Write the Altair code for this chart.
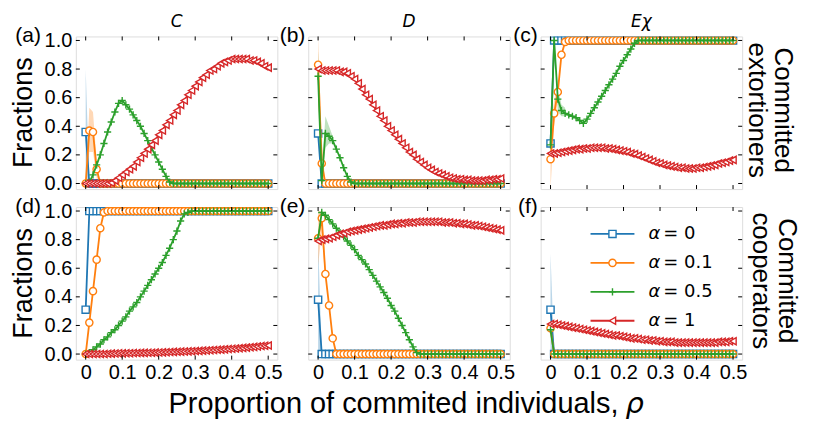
import altair as alt
import pandas as pd

# ---------------- data ----------------
RHO = [0.00, 0.01, 0.02, 0.03, 0.04, 0.05, 0.06, 0.07, 0.08, 0.09,
       0.10, 0.11, 0.12, 0.13, 0.14, 0.15, 0.16, 0.17, 0.18, 0.19,
       0.20, 0.21, 0.22, 0.23, 0.24, 0.25, 0.26, 0.27, 0.28, 0.29,
       0.30, 0.31, 0.32, 0.33, 0.34, 0.35, 0.36, 0.37, 0.38, 0.39,
       0.40, 0.41, 0.42, 0.43, 0.44, 0.45, 0.46, 0.47, 0.48, 0.49,
       0.50]

ALPHA_LABELS = ["0", "0.1", "0.5", "1"]
COLORS = ["#1f77b4", "#ff7f0e", "#2ca02c", "#d62728"]
SHAPES = ["square", "circle", "M-1,0L1,0M0,-1L0,1", "triangle-left"]
X_TICKS = [0, 0.1, 0.2, 0.3, 0.4, 0.5]
Y_TICKS = [0, 0.2, 0.4, 0.6, 0.8, 1.0]
COL_TITLES = ["C", "D", "Eχ"]
ROW_TITLES = ["Committed\nextortioners", "Committed\ncooperators"]
PANEL_TAGS = ["(a)", "(b)", "(c)", "(d)", "(e)", "(f)"]

# (a) C, committed extortioners
A_0 = [0.36, 0, 0, 0, 0, 0, 0, 0, 0, 0,
       0, 0, 0, 0, 0, 0, 0, 0, 0, 0,
       0, 0, 0, 0, 0, 0, 0, 0, 0, 0,
       0, 0, 0, 0, 0, 0, 0, 0, 0, 0,
       0, 0, 0, 0, 0, 0, 0, 0, 0, 0,
       0]
A_01 = [0, 0.37, 0.36, 0.10, 0, 0, 0, 0, 0, 0,
        0, 0, 0, 0, 0, 0, 0, 0, 0, 0,
        0, 0, 0, 0, 0, 0, 0, 0, 0, 0,
        0, 0, 0, 0, 0, 0, 0, 0, 0, 0,
        0, 0, 0, 0, 0, 0, 0, 0, 0, 0,
        0]
A_05 = [0, 0.01, 0.06, 0.13, 0.20, 0.28, 0.36, 0.43, 0.50, 0.56,
        0.58, 0.55, 0.52, 0.48, 0.44, 0.40, 0.35, 0.30, 0.25, 0.20,
        0.15, 0.10, 0.05, 0.01, 0, 0, 0, 0, 0, 0,
        0, 0, 0, 0, 0, 0, 0, 0, 0, 0,
        0, 0, 0, 0, 0, 0, 0, 0, 0, 0,
        0]
A_1 = [0, 0, 0, 0, 0, 0, 0, 0.005, 0.02, 0.04,
       0.06, 0.08, 0.10, 0.12, 0.15, 0.18, 0.21, 0.24, 0.27, 0.30,
       0.34, 0.37, 0.41, 0.44, 0.48, 0.51, 0.55, 0.58, 0.62, 0.65,
       0.68, 0.71, 0.74, 0.76, 0.79, 0.80, 0.82, 0.84, 0.85, 0.86,
       0.87, 0.87, 0.87, 0.87, 0.87, 0.86, 0.86, 0.85, 0.84, 0.82,
       0.81]

# (b) D, committed extortioners
B_0 = [0.35, 0, 0, 0, 0, 0, 0, 0, 0, 0,
       0, 0, 0, 0, 0, 0, 0, 0, 0, 0,
       0, 0, 0, 0, 0, 0, 0, 0, 0, 0,
       0, 0, 0, 0, 0, 0, 0, 0, 0, 0,
       0, 0, 0, 0, 0, 0, 0, 0, 0, 0,
       0]
B_01 = [0.83, 0.14, 0, 0, 0, 0, 0, 0, 0, 0,
        0, 0, 0, 0, 0, 0, 0, 0, 0, 0,
        0, 0, 0, 0, 0, 0, 0, 0, 0, 0,
        0, 0, 0, 0, 0, 0, 0, 0, 0, 0,
        0, 0, 0, 0, 0, 0, 0, 0, 0, 0,
        0]
B_05 = [0.75, 0.02, 0.35, 0.33, 0.30, 0.24, 0.18, 0.11, 0.05, 0.01,
        0, 0, 0, 0, 0, 0, 0, 0, 0, 0,
        0, 0, 0, 0, 0, 0, 0, 0, 0, 0,
        0, 0, 0, 0, 0, 0, 0, 0, 0, 0,
        0, 0, 0, 0, 0, 0, 0, 0, 0, 0,
        0]
B_1 = [0.80, 0.79, 0.79, 0.79, 0.79, 0.79, 0.78, 0.78, 0.77, 0.75,
       0.73, 0.70, 0.66, 0.62, 0.59, 0.55, 0.51, 0.47, 0.44, 0.40,
       0.37, 0.34, 0.31, 0.28, 0.25, 0.22, 0.20, 0.17, 0.15, 0.13,
       0.11, 0.095, 0.08, 0.07, 0.06, 0.05, 0.04, 0.035, 0.03, 0.03,
       0.025, 0.025, 0.02, 0.02, 0.02, 0.02, 0.025, 0.025, 0.03, 0.03,
       0.035]

# (c) E-chi, committed extortioners
C_0 = [0.28, 1, 1, 1, 1, 1, 1, 1, 1, 1,
       1, 1, 1, 1, 1, 1, 1, 1, 1, 1,
       1, 1, 1, 1, 1, 1, 1, 1, 1, 1,
       1, 1, 1, 1, 1, 1, 1, 1, 1, 1,
       1, 1, 1, 1, 1, 1, 1, 1, 1, 1,
       1]
C_01 = [0.17, 0.49, 0.64, 0.90, 0.99, 1, 1, 1, 1, 1,
        1, 1, 1, 1, 1, 1, 1, 1, 1, 1,
        1, 1, 1, 1, 1, 1, 1, 1, 1, 1,
        1, 1, 1, 1, 1, 1, 1, 1, 1, 1,
        1, 1, 1, 1, 1, 1, 1, 1, 1, 1,
        1]
C_05 = [0.27, 1.0, 0.59, 0.51, 0.49, 0.48, 0.47, 0.46, 0.44, 0.42,
        0.45, 0.49, 0.53, 0.57, 0.61, 0.65, 0.69, 0.73, 0.77, 0.82,
        0.86, 0.90, 0.94, 0.98, 1, 1, 1, 1, 1, 1,
        1, 1, 1, 1, 1, 1, 1, 1, 1, 1,
        1, 1, 1, 1, 1, 1, 1, 1, 1, 1,
        1]
C_1 = [0.21, 0.21, 0.215, 0.22, 0.225, 0.23, 0.235, 0.24, 0.24, 0.245,
       0.245, 0.25, 0.25, 0.25, 0.25, 0.245, 0.245, 0.24, 0.235, 0.23,
       0.225, 0.22, 0.21, 0.205, 0.195, 0.185, 0.175, 0.165, 0.155, 0.145,
       0.14, 0.13, 0.125, 0.12, 0.115, 0.11, 0.11, 0.105, 0.105, 0.105,
       0.11, 0.11, 0.115, 0.12, 0.125, 0.13, 0.14, 0.145, 0.15, 0.16,
       0.165]

# (d) C, committed cooperators
D_0 = [0.31, 1, 1, 1, 1, 1, 1, 1, 1, 1,
       1, 1, 1, 1, 1, 1, 1, 1, 1, 1,
       1, 1, 1, 1, 1, 1, 1, 1, 1, 1,
       1, 1, 1, 1, 1, 1, 1, 1, 1, 1,
       1, 1, 1, 1, 1, 1, 1, 1, 1, 1,
       1]
D_01 = [0, 0.22, 0.44, 0.66, 0.88, 0.99, 1, 1, 1, 1,
        1, 1, 1, 1, 1, 1, 1, 1, 1, 1,
        1, 1, 1, 1, 1, 1, 1, 1, 1, 1,
        1, 1, 1, 1, 1, 1, 1, 1, 1, 1,
        1, 1, 1, 1, 1, 1, 1, 1, 1, 1,
        1]
D_05 = [0, 0.01, 0.03, 0.05, 0.07, 0.10, 0.12, 0.15, 0.17, 0.20,
        0.23, 0.26, 0.30, 0.33, 0.36, 0.40, 0.44, 0.48, 0.52, 0.56,
        0.60, 0.64, 0.69, 0.74, 0.80, 0.86, 0.93, 0.98, 0.99, 1,
        1, 1, 1, 1, 1, 1, 1, 1, 1, 1,
        1, 1, 1, 1, 1, 1, 1, 1, 1, 1,
        1]
D_1 = [0, 0, 0, 0, 0, 0, 0.002, 0.003, 0.004, 0.005,
       0.005, 0.006, 0.006, 0.007, 0.007, 0.008, 0.008, 0.009, 0.009, 0.01,
       0.011, 0.012, 0.013, 0.014, 0.015, 0.016, 0.017, 0.018, 0.019, 0.02,
       0.021, 0.022, 0.024, 0.025, 0.027, 0.028, 0.03, 0.031, 0.033, 0.035,
       0.037, 0.039, 0.041, 0.043, 0.045, 0.048, 0.05, 0.053, 0.056, 0.058,
       0.06]

# (e) D, committed cooperators
E_0 = [0.38, 0, 0, 0, 0, 0, 0, 0, 0, 0,
       0, 0, 0, 0, 0, 0, 0, 0, 0, 0,
       0, 0, 0, 0, 0, 0, 0, 0, 0, 0,
       0, 0, 0, 0, 0, 0, 0, 0, 0, 0,
       0, 0, 0, 0, 0, 0, 0, 0, 0, 0,
       0]
E_01 = [0.81, 0.95, 0.56, 0.34, 0.11, 0, 0, 0, 0, 0,
        0, 0, 0, 0, 0, 0, 0, 0, 0, 0,
        0, 0, 0, 0, 0, 0, 0, 0, 0, 0,
        0, 0, 0, 0, 0, 0, 0, 0, 0, 0,
        0, 0, 0, 0, 0, 0, 0, 0, 0, 0,
        0]
E_05 = [0.81, 0.99, 0.97, 0.94, 0.91, 0.88, 0.85, 0.82, 0.79, 0.76,
        0.73, 0.69, 0.66, 0.63, 0.59, 0.55, 0.51, 0.47, 0.43, 0.39,
        0.34, 0.30, 0.25, 0.20, 0.15, 0.10, 0.05, 0.01, 0, 0,
        0, 0, 0, 0, 0, 0, 0, 0, 0, 0,
        0, 0, 0, 0, 0, 0, 0, 0, 0, 0,
        0]
E_1 = [0.79, 0.80, 0.805, 0.81, 0.82, 0.83, 0.84, 0.845, 0.855, 0.86,
       0.865, 0.87, 0.875, 0.88, 0.885, 0.89, 0.895, 0.90, 0.90, 0.905,
       0.91, 0.91, 0.915, 0.915, 0.92, 0.92, 0.92, 0.925, 0.925, 0.925,
       0.925, 0.925, 0.925, 0.925, 0.92, 0.92, 0.92, 0.915, 0.915, 0.91,
       0.91, 0.905, 0.90, 0.90, 0.895, 0.89, 0.885, 0.88, 0.875, 0.87,
       0.865]

# (f) E-chi, committed cooperators
F_0 = [0.31, 0, 0, 0, 0, 0, 0, 0, 0, 0,
       0, 0, 0, 0, 0, 0, 0, 0, 0, 0,
       0, 0, 0, 0, 0, 0, 0, 0, 0, 0,
       0, 0, 0, 0, 0, 0, 0, 0, 0, 0,
       0, 0, 0, 0, 0, 0, 0, 0, 0, 0,
       0]
F_01 = [0.18, 0, 0, 0, 0, 0, 0, 0, 0, 0,
        0, 0, 0, 0, 0, 0, 0, 0, 0, 0,
        0, 0, 0, 0, 0, 0, 0, 0, 0, 0,
        0, 0, 0, 0, 0, 0, 0, 0, 0, 0,
        0, 0, 0, 0, 0, 0, 0, 0, 0, 0,
        0]
F_05 = [0.17, 0, 0, 0, 0, 0, 0, 0, 0, 0,
        0, 0, 0, 0, 0, 0, 0, 0, 0, 0,
        0, 0, 0, 0, 0, 0, 0, 0, 0, 0,
        0, 0, 0, 0, 0, 0, 0, 0, 0, 0,
        0, 0, 0, 0, 0, 0, 0, 0, 0, 0,
        0]
F_1 = [0.21, 0.21, 0.205, 0.20, 0.195, 0.19, 0.185, 0.18, 0.175, 0.17,
       0.165, 0.16, 0.155, 0.15, 0.145, 0.14, 0.135, 0.13, 0.13, 0.125,
       0.12, 0.115, 0.11, 0.11, 0.105, 0.10, 0.10, 0.095, 0.095, 0.09,
       0.09, 0.085, 0.085, 0.085, 0.08, 0.08, 0.08, 0.08, 0.08, 0.08,
       0.08, 0.08, 0.08, 0.08, 0.08, 0.08, 0.085, 0.085, 0.085, 0.09,
       0.09]

# shaded spread bands near rho = 0 : (x, low, high)
BAND_A0_X, BAND_A0_LO, BAND_A0_HI = [0.0, 0.01], [0.0, 0.0], [0.80, 0.0]
BAND_A1_X, BAND_A1_LO, BAND_A1_HI = [0.0, 0.01, 0.02, 0.03, 0.04], [0.0, 0.22, 0.22, 0.04, 0.0], [0.0, 0.53, 0.50, 0.16, 0.0]
BAND_B1_X, BAND_B1_LO, BAND_B1_HI = [0.0, 0.01, 0.02], [0.63, 0.0, 0.0], [1.03, 0.30, 0.0]
BAND_B2_X, BAND_B2_LO, BAND_B2_HI = [0.0, 0.01, 0.02, 0.03, 0.04], [0.57, 0.0, 0.25, 0.28, 0.28], [0.93, 0.08, 0.47, 0.40, 0.33]
BAND_C1_X, BAND_C1_LO, BAND_C1_HI = [0.0, 0.01, 0.02], [-0.04, 0.40, 0.58], [0.38, 0.58, 0.70]
BAND_C2_X, BAND_C2_LO, BAND_C2_HI = [0.01, 0.02, 0.03, 0.04], [1.0, 0.50, 0.47, 0.47], [1.0, 0.68, 0.55, 0.53]
BAND_E0_X, BAND_E0_LO, BAND_E0_HI = [0.0, 0.01], [0.0, 0.0], [0.80, 0.0]
BAND_E1_X, BAND_E1_LO, BAND_E1_HI = [0.0, 0.01, 0.02], [0.62, 0.85, 0.50], [1.0, 1.0, 0.62]
BAND_F0_X, BAND_F0_LO, BAND_F0_HI = [0.0, 0.01], [0.0, 0.0], [0.70, 0.0]

PANEL_SERIES = [
    [A_0, A_01, A_05, A_1],
    [B_0, B_01, B_05, B_1],
    [C_0, C_01, C_05, C_1],
    [D_0, D_01, D_05, D_1],
    [E_0, E_01, E_05, E_1],
    [F_0, F_01, F_05, F_1],
]
PANEL_BANDS = [
    {0: (BAND_A0_X, BAND_A0_LO, BAND_A0_HI), 1: (BAND_A1_X, BAND_A1_LO, BAND_A1_HI)},
    {1: (BAND_B1_X, BAND_B1_LO, BAND_B1_HI), 2: (BAND_B2_X, BAND_B2_LO, BAND_B2_HI)},
    {1: (BAND_C1_X, BAND_C1_LO, BAND_C1_HI), 2: (BAND_C2_X, BAND_C2_LO, BAND_C2_HI)},
    {},
    {0: (BAND_E0_X, BAND_E0_LO, BAND_E0_HI), 1: (BAND_E1_X, BAND_E1_LO, BAND_E1_HI)},
    {0: (BAND_F0_X, BAND_F0_LO, BAND_F0_HI)},
]
for ser in PANEL_SERIES:
    for s in ser:
        assert len(s) == len(RHO), len(s)

# ---------------- layout / style ----------------
W, H = 202, 153
FONT = "Liberation Sans"
MATH_FONT = "DejaVu Sans"
XS = alt.Scale(domain=[-0.027, 0.525], nice=False, zero=False)
YS = alt.Scale(domain=[-0.039, 1.028], nice=False, zero=False)
TICK_LEN = 4
MSIZE = 52
LW = 1.8


def x_enc(field, show):
    if show:
        ax = alt.Axis(values=X_TICKS, labelExpr="datum.value == 0 ? '0' : format(datum.value, '.1f')",
                      ticks=False, tickSize=0, domain=False, grid=False, labelFontSize=20,
                      labelFont=FONT, labelColor="black", labelPadding=3, labelFlush=False,
                      labelOverlap=False, title="")
        return alt.X(field, type="quantitative", scale=XS, axis=ax)
    return alt.X(field, type="quantitative", scale=XS, axis=None)


def y_enc(field, show):
    if show:
        ax = alt.Axis(values=Y_TICKS, format=".1f", ticks=False, tickSize=0, domain=False, grid=False,
                      labelFontSize=20, labelFont=FONT, labelColor="black", labelPadding=4,
                      labelFlush=False, labelOverlap=False, title="")
        return alt.Y(field, type="quantitative", scale=YS, axis=ax)
    return alt.Y(field, type="quantitative", scale=YS, axis=None)


def text_layer(txt, x, y, size, font=FONT, **kw):
    return alt.Chart(pd.DataFrame({"t": [txt]})).mark_text(
        font=font, fontSize=size, color="black", **kw
    ).encode(text="t:N", x=alt.value(x), y=alt.value(y))


def panel(idx):
    row, col = divmod(idx, 3)
    sx, sy = row == 1, col == 0
    layers = []
    bands = PANEL_BANDS[idx]
    for s, (bx, blo, bhi) in bands.items():
        bdf = pd.DataFrame({"rho": bx, "lo": blo, "hi": bhi})
        layers.append(alt.Chart(bdf).mark_area(color=COLORS[s], opacity=0.3, clip=True).encode(
            x=x_enc("rho", sx), y=y_enc("lo", sy), y2="hi"))
    for s, vals in enumerate(PANEL_SERIES[idx]):
        df = pd.DataFrame({"rho": RHO, "val": vals})
        base = alt.Chart(df)
        layers.append(base.mark_line(color=COLORS[s], strokeWidth=LW, clip=True).encode(
            x=x_enc("rho", sx), y=y_enc("val", sy)))
        layers.append(base.mark_point(shape=SHAPES[s], size=MSIZE, filled=True, fill="white",
                                      stroke=COLORS[s], strokeWidth=1.4, opacity=1, clip=True).encode(
            x=x_enc("rho", sx), y=y_enc("val", sy)))
    # inward ticks on all four sides
    xt = alt.Chart(pd.DataFrame({"v": X_TICKS}))
    yt = alt.Chart(pd.DataFrame({"v": Y_TICKS}))
    layers.append(xt.mark_rule(color="black", strokeWidth=1).encode(
        x=x_enc("v", sx), y=alt.value(0), y2=alt.value(TICK_LEN)))
    layers.append(xt.mark_rule(color="black", strokeWidth=1).encode(
        x=x_enc("v", sx), y=alt.value(H), y2=alt.value(H - TICK_LEN)))
    layers.append(yt.mark_rule(color="black", strokeWidth=1).encode(
        y=y_enc("v", sy), x=alt.value(0), x2=alt.value(TICK_LEN)))
    layers.append(yt.mark_rule(color="black", strokeWidth=1).encode(
        y=y_enc("v", sy), x=alt.value(W), x2=alt.value(W - TICK_LEN)))
    # invisible anchor fixing the top-left extent of the whole figure
    if idx == 0:
        layers.append(alt.Chart(pd.DataFrame({"t": [""]})).mark_rule(opacity=0, strokeWidth=1).encode(
            x=alt.value(-67.5), x2=alt.value(-60), y=alt.value(-27.5)))
    # panel tag
    tag_x = -35 if col == 0 else -3
    layers.append(text_layer(PANEL_TAGS[idx], tag_x, 0, 21, align="right", baseline="middle"))
    # column titles
    if row == 0:
        layers.append(text_layer(COL_TITLES[col], W / 2, -9, 17, font=MATH_FONT, align="center",
                                 baseline="alphabetic", fontStyle="italic"))
    # y title
    if col == 0:
        layers.append(text_layer("Fractions", -44, H / 2, 27, align="center",
                                 baseline="alphabetic", angle=270))
    # row titles
    if col == 2:
        layers.append(text_layer(ROW_TITLES[row], W + (33 if row == 0 else 37), 74, 26,
                                 align="center", baseline="alphabetic", angle=90,
                                 lineBreak="\n", lineHeight=26))
    # x title under the middle bottom panel
    if idx == 4:
        layers.append(text_layer("Proportion of commited individuals,", 311, 206, 29,
                                 align="right", baseline="alphabetic"))
        layers.append(text_layer("ρ", 318, 206, 29, font=MATH_FONT, align="left",
                                 baseline="alphabetic", fontStyle="italic"))
    # legend inside panel (f)
    if idx == 5:
        for s in range(4):
            ry = 27 + 29 * s
            ldf = pd.DataFrame({"t": [ALPHA_LABELS[s]]})
            layers.append(alt.Chart(ldf).mark_rule(color=COLORS[s], strokeWidth=LW).encode(
                x=alt.value(50), x2=alt.value(94), y=alt.value(ry)))
            layers.append(alt.Chart(ldf).mark_point(shape=SHAPES[s], size=MSIZE, filled=True, fill="white",
                                                    stroke=COLORS[s], strokeWidth=1.4, opacity=1).encode(
                x=alt.value(72), y=alt.value(ry)))
            layers.append(text_layer("α", 108, ry, 18, font=MATH_FONT, align="left",
                                     baseline="middle", fontStyle="italic"))
            layers.append(text_layer("= " + ALPHA_LABELS[s], 123, ry, 18, font=MATH_FONT,
                                     align="left", baseline="middle"))
    return alt.layer(*layers).properties(width=W, height=H)


panels = [panel(i) for i in range(6)]

chart = alt.concat(
    *panels, columns=3, spacing={"row": 18, "column": 31}, bounds="flush"
).properties(
    padding={"left": 0, "top": 0, "right": 4, "bottom": 4}
).configure_view(
    stroke="black", strokeWidth=1
).configure(background="white")

chart.save("out.html", embed_options={"renderer": "svg", "actions": False})
